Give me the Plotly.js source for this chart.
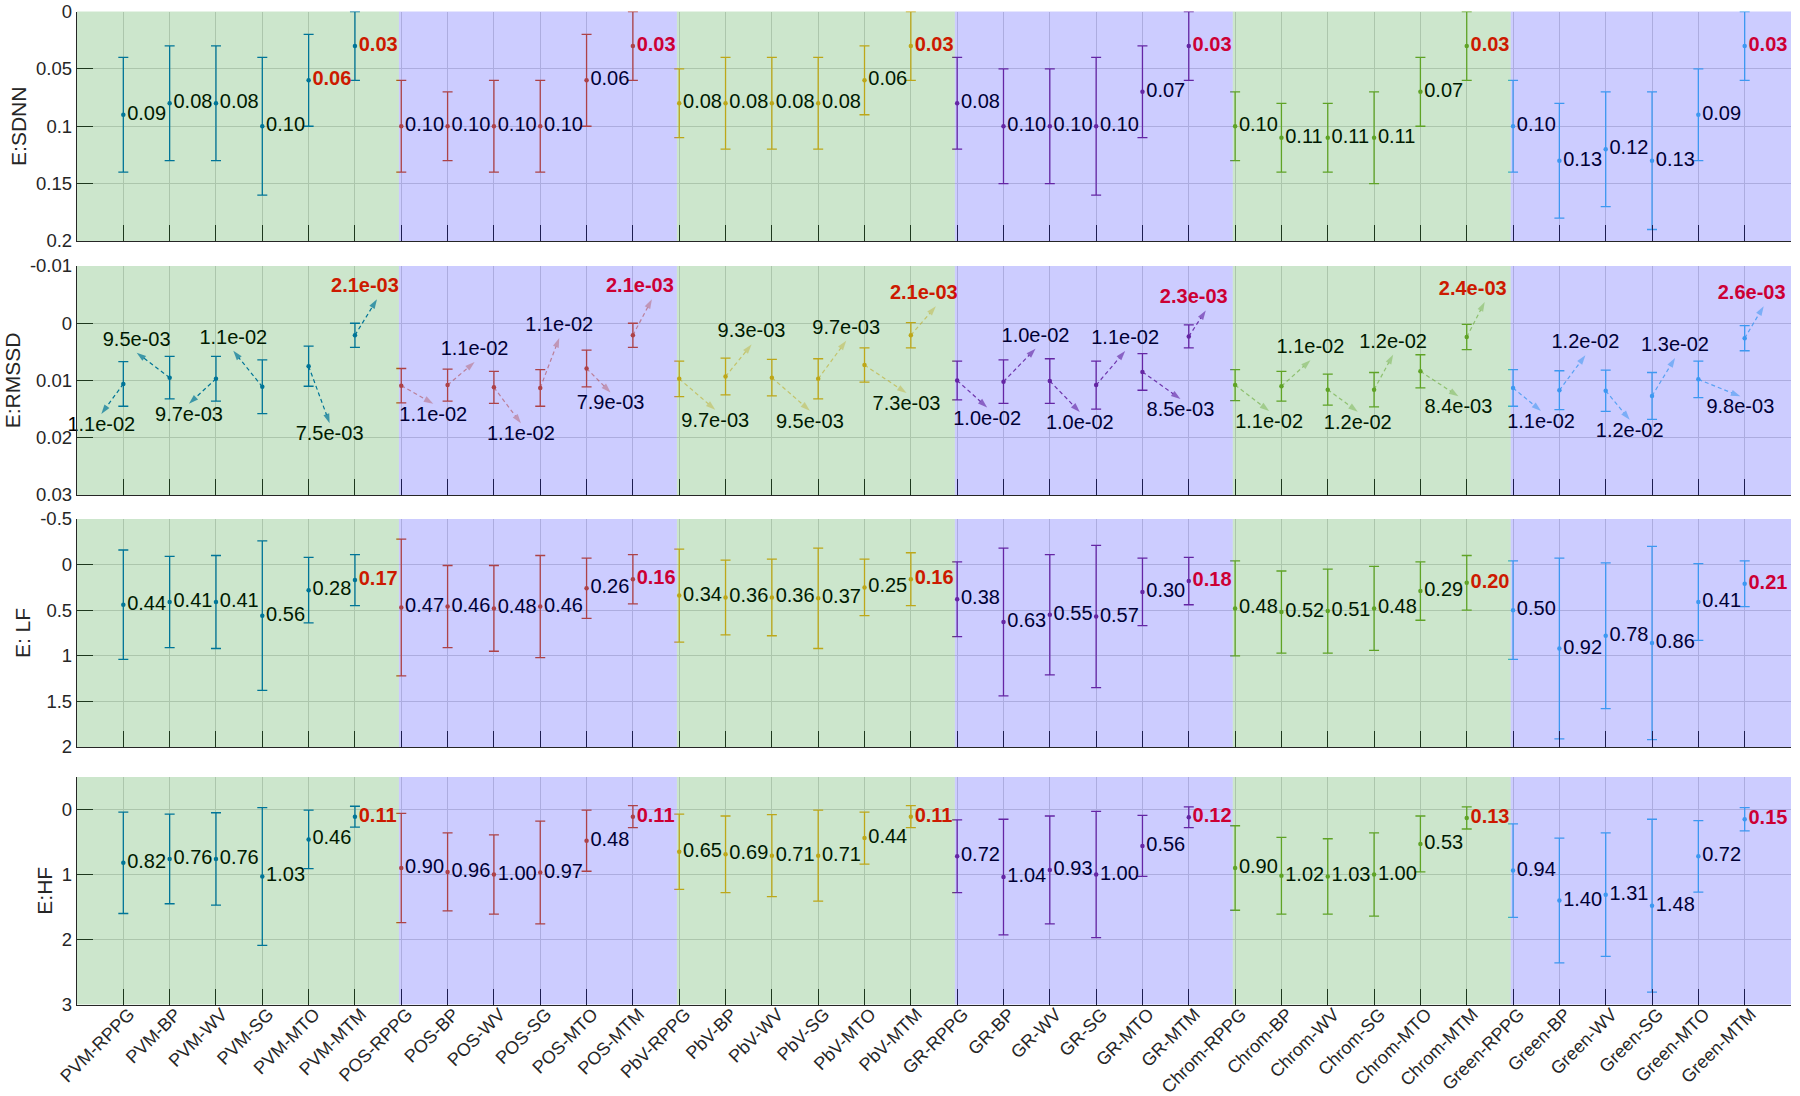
<!DOCTYPE html>
<html><head><meta charset="utf-8">
<script src="https://cdn.plot.ly/plotly-3.0.1.min.js"></script>
<style>html,body{margin:0;padding:0;background:#fff;}#chart{width:1800px;height:1096px;}</style>
</head><body><div id="chart"></div>
<script>
// ---------------- DATA ----------------
const categories = ['PVM-RPPG','PVM-BP','PVM-WV','PVM-SG','PVM-MTO','PVM-MTM',
  'POS-RPPG','POS-BP','POS-WV','POS-SG','POS-MTO','POS-MTM',
  'PbV-RPPG','PbV-BP','PbV-WV','PbV-SG','PbV-MTO','PbV-MTM',
  'GR-RPPG','GR-BP','GR-WV','GR-SG','GR-MTO','GR-MTM',
  'Chrom-RPPG','Chrom-BP','Chrom-WV','Chrom-SG','Chrom-MTO','Chrom-MTM',
  'Green-RPPG','Green-BP','Green-WV','Green-SG','Green-MTO','Green-MTM'];
const methodNames = ['PVM','POS','PbV','GR','Chrom','Green'];

const sdnnMean = [0.09,0.08,0.08,0.10,0.06,0.03, 0.10,0.10,0.10,0.10,0.06,0.03, 0.08,0.08,0.08,0.08,0.06,0.03,
                  0.08,0.10,0.10,0.10,0.07,0.03, 0.10,0.11,0.11,0.11,0.07,0.03, 0.10,0.13,0.12,0.13,0.09,0.03];
const sdnnStd  = [0.05,0.05,0.05,0.06,0.04,0.03, 0.04,0.03,0.04,0.04,0.04,0.03, 0.03,0.04,0.04,0.04,0.03,0.03,
                  0.04,0.05,0.05,0.06,0.04,0.03, 0.03,0.03,0.03,0.04,0.03,0.03, 0.04,0.05,0.05,0.06,0.04,0.03];
const rmssdMean = [0.0106,0.0095,0.0097,0.0111,0.0075,0.0021, 0.0109,0.0108,0.0112,0.0113,0.0079,0.0021,
                   0.0097,0.0093,0.0095,0.0097,0.0073,0.0021, 0.0100,0.0102,0.0101,0.0108,0.0085,0.0023,
                   0.0108,0.0110,0.0116,0.0116,0.0084,0.0024, 0.0113,0.0117,0.0118,0.0127,0.0098,0.0026];
const rmssdStd  = [0.0039,0.0037,0.0039,0.0047,0.0035,0.0021, 0.0030,0.0028,0.0028,0.0032,0.0032,0.0021,
                   0.0031,0.0032,0.0032,0.0035,0.0030,0.0022, 0.0034,0.0038,0.0039,0.0042,0.0032,0.0020,
                   0.0027,0.0026,0.0027,0.0030,0.0029,0.0022, 0.0032,0.0034,0.0036,0.0041,0.0032,0.0022];
const lfMean = [0.44,0.41,0.41,0.56,0.28,0.17, 0.47,0.46,0.48,0.46,0.26,0.16, 0.34,0.36,0.36,0.37,0.25,0.16,
                0.38,0.63,0.55,0.57,0.30,0.18, 0.48,0.52,0.51,0.48,0.29,0.20, 0.50,0.92,0.78,0.86,0.41,0.21];
const lfStd  = [0.60,0.50,0.51,0.82,0.36,0.28, 0.75,0.45,0.47,0.56,0.33,0.27, 0.51,0.41,0.42,0.55,0.31,0.29,
                0.41,0.81,0.66,0.78,0.37,0.26, 0.52,0.45,0.46,0.46,0.32,0.30, 0.54,0.99,0.80,1.06,0.42,0.25];
const hfMean = [0.82,0.76,0.76,1.03,0.46,0.11, 0.90,0.96,1.00,0.97,0.48,0.11, 0.65,0.69,0.71,0.71,0.44,0.11,
                0.72,1.04,0.93,1.00,0.56,0.12, 0.90,1.02,1.03,1.00,0.53,0.13, 0.94,1.40,1.31,1.48,0.72,0.15];
const hfStd  = [0.78,0.69,0.71,1.06,0.45,0.16, 0.84,0.60,0.61,0.79,0.47,0.17, 0.58,0.59,0.63,0.70,0.40,0.17,
                0.56,0.89,0.83,0.97,0.47,0.16, 0.65,0.59,0.58,0.64,0.43,0.17, 0.72,0.96,0.95,1.33,0.55,0.18];

const sdnnHighlight  = [4,5,11,17,23,29,35];
const otherHighlight = [5,11,17,23,29,35];

const sdnnTicks  = [0,0.05,0.1,0.15,0.2];
const sdnnTickText = ['0','0.05','0.1','0.15','0.2'];
const rmssdTicks = [-0.01,0,0.01,0.02,0.03];
const rmssdTickText = ['-0.01','0','0.01','0.02','0.03'];
const lfTicks = [-0.5,0,0.5,1,1.5,2];
const lfTickText = ['-0.5','0','0.5','1','1.5','2'];
const hfTicks = [0,1,2,3];
const hfTickText = ['0','1','2','3'];

// ---------------- STYLE / LAYOUT CONSTANTS ----------------
const methodColors = ['rgb(0,114,189)','rgb(217,83,25)','rgb(237,177,32)','rgb(126,47,142)','rgb(119,172,48)','rgb(77,190,238)'];
const arrowOpacity = [1,0.55,0.55,0.9,0.55,0.8];
// arrow tip offsets (pixels) for the RMSSD labels
const arrowDX = [-22,-33,-27,-29,21,22, 32,27,27,19,24,19, 36,26,38,28,42,25, 30,32,30,29,38,17, 34,29,30,19,38,18, 28,26,24,23,42,19];
const arrowDY = [30,-25,25,-36,57,-36, 18,-23,36,-50,24,-36, 31,-32,33,-38,28,-29, 27,-33,31,-34,27,-26, 26,-26,22,-35,25,-35, 23,-35,29,-38,17,-32];

const FONT = 'Liberation Sans, Arial, sans-serif';
const AXC = '#262626';
const GRID = 'rgb(216,216,216)';
const W = 1800, H = 1096, mL = 77, mR = 9, mT = 11, mB = 91;
const plotW = W - mL - mR, plotH = H - mT - mB;
const panelTop = [11.5, 266, 519, 777];
const panelBot = [241, 495, 747, 1004.5];
const xRange = [0, 37];
const LABEL_SIZE = 20;

function dom(k){
  const a = (H - mB - panelBot[k]) / plotH, b = (H - mB - panelTop[k]) / plotH;
  return [Math.max(0, a), Math.min(1, b)];
}
function sci(v){
  return v.toExponential(1).replace(/e([+-])(\d)$/, 'e$10$2');
}

const panels = [
  {mean: sdnnMean, std: sdnnStd, hi: sdnnHighlight, fmt: v => v.toFixed(2), title: 'E:SDNN', range: [0.2, 0], tv: sdnnTicks, tt: sdnnTickText},
  {mean: rmssdMean, std: rmssdStd, hi: otherHighlight, fmt: sci, title: 'E:RMSSD', range: [0.03, -0.01], tv: rmssdTicks, tt: rmssdTickText, arrows: true},
  {mean: lfMean, std: lfStd, hi: otherHighlight, fmt: v => v.toFixed(2), title: 'E: LF', range: [2, -0.5], tv: lfTicks, tt: lfTickText},
  {mean: hfMean, std: hfStd, hi: otherHighlight, fmt: v => v.toFixed(2), title: 'E:HF', range: [3, -0.5], tv: hfTicks, tt: hfTickText}
];

const xs = categories.map((c, i) => i + 1);
const traces = [];
const shapes = [];
const layout = {
  width: W, height: H, margin: {l: mL, r: mR, t: mT, b: mB},
  paper_bgcolor: '#fff', plot_bgcolor: '#fff', showlegend: false,
  font: {family: FONT, color: AXC}
};

panels.forEach((p, k) => {
  const s = k === 0 ? '' : String(k + 1);
  const xa = 'x' + s, ya = 'y' + s;
  const d = dom(k);
  const pxX = plotW / (xRange[1] - xRange[0]);
  const pxY = (d[1] - d[0]) * plotH / Math.abs(p.range[0] - p.range[1]);
  const labels = p.mean.map((v, i) => p.hi.includes(i) ? '<b>' + p.fmt(v) + '</b>' : p.fmt(v));
  const labelColors = p.mean.map((v, i) => p.hi.includes(i) ? 'rgb(255,0,0)' : 'rgb(0,0,0)');

  methodNames.forEach((m, g) => {
    const idx = [0,1,2,3,4,5].map(j => g * 6 + j);
    const tr = {
      type: 'scatter', x: idx.map(i => xs[i]), y: idx.map(i => p.mean[i]),
      xaxis: xa, yaxis: ya, mode: p.arrows ? 'markers' : 'markers+text',
      marker: {size: 4.5, color: methodColors[g]},
      error_y: {type: 'data', array: idx.map(i => p.std[i]), visible: true, color: methodColors[g], thickness: 1.3, width: 5},
      hoverinfo: 'skip', cliponaxis: false
    };
    if (!p.arrows) {
      tr.text = idx.map(i => labels[i]);
      tr.textposition = 'middle right';
      tr.textfont = {family: FONT, size: LABEL_SIZE, color: idx.map(i => labelColors[i])};
    }
    traces.push(tr);
  });

  if (p.arrows) {
    const lx = [], ly = [];
    p.mean.forEach((v, i) => {
      const g = Math.floor(i / 6);
      const xt = xs[i] + arrowDX[i] / pxX;
      const yt = v + arrowDY[i] / pxY;
      traces.push({
        type: 'scatter', x: [xs[i], xt], y: [v, yt], xaxis: xa, yaxis: ya,
        mode: 'lines+markers', opacity: arrowOpacity[g],
        line: {color: methodColors[g], width: 1.2, dash: '4px,3px'},
        marker: {symbol: ['circle', 'arrow'], size: [0, 10], color: methodColors[g], angleref: 'previous', line: {width: 0}},
        hoverinfo: 'skip', cliponaxis: false
      });
      const shiftX = p.hi.includes(i) ? -12 : 0;
      lx.push(xt + shiftX / pxX);
      ly.push(yt + Math.sign(arrowDY[i]) * 12 / pxY);
    });
    traces.push({
      type: 'scatter', x: lx, y: ly, xaxis: xa, yaxis: ya, mode: 'text',
      text: labels, textposition: 'middle center',
      textfont: {family: FONT, size: LABEL_SIZE, color: labelColors},
      hoverinfo: 'skip', cliponaxis: false
    });
  }

  layout['xaxis' + s] = {
    domain: [0, 1], anchor: ya, range: xRange, tickmode: 'array', tickvals: xs, ticktext: categories,
    showticklabels: k === 3, tickangle: -45, ticks: 'inside', ticklen: 16, tickcolor: AXC, tickwidth: 1,
    ticklabelstandoff: -9, ticklabelshift: 6,
    showgrid: true, gridcolor: GRID, gridwidth: 1, zeroline: false,
    showline: true, linecolor: AXC, linewidth: 1.2,
    tickfont: {family: FONT, size: 18, color: AXC}, automargin: false
  };
  layout['yaxis' + s] = {
    domain: d, anchor: xa, range: p.range, tickmode: 'array', tickvals: p.tv, ticktext: p.tt,
    ticks: 'inside', ticklen: 16, tickcolor: AXC, tickwidth: 1,
    showgrid: true, gridcolor: GRID, gridwidth: 1, zeroline: false,
    showline: true, linecolor: AXC, linewidth: 1.2,
    tickfont: {family: FONT, size: 18.5, color: AXC},
    title: {text: p.title, font: {family: FONT, size: 21, color: AXC}, standoff: 3},
    automargin: false
  };

  // translucent method bands (drawn over the data, like the original patches)
  for (let b = 0; b < 6; b++) {
    shapes.push({
      type: 'rect', xref: xa, yref: ya + ' domain',
      x0: b === 0 ? xRange[0] : b * 6 + 0.95, x1: b === 5 ? xRange[1] : (b + 1) * 6 + 0.95,
      y0: 0, y1: 1, fillcolor: b % 2 === 0 ? 'rgb(0,128,0)' : 'rgb(0,0,255)',
      opacity: 0.2, line: {width: 0}, layer: 'above'
    });
  }
});
layout.shapes = shapes;

Plotly.newPlot('chart', traces, layout, {displayModeBar: false, staticPlot: true});
</script>
</body></html>
